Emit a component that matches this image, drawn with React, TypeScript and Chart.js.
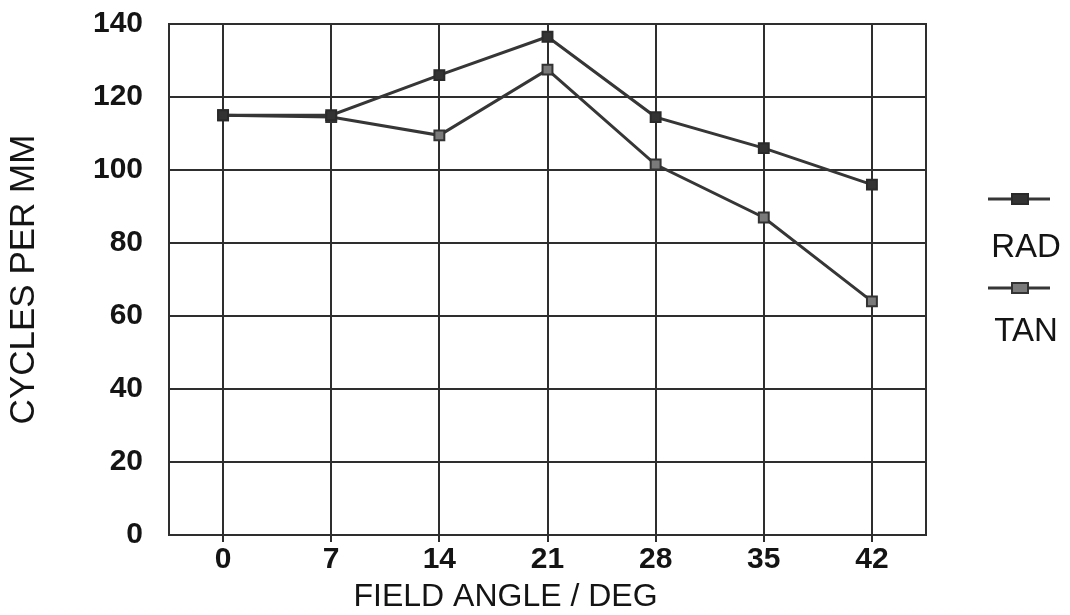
import { useEffect, useRef } from 'react';
import { Chart, registerables } from 'chart.js';

Chart.register(...registerables);

const categories = ['0', '7', '14', '21', '28', '35', '42'];
const radValues = [115, 115, 126, 136.5, 114.5, 106, 96];
const tanValues = [115, 114.5, 109.5, 127.5, 101.5, 87, 64];
const seriesNames = ['RAD', 'TAN'];
const yMin = 0;
const yMax = 140;
const yStep = 20;
const xTitle = 'FIELD ANGLE / DEG';
const yTitle = 'CYCLES PER MM';

const FONT = '"Liberation Sans", Arial, Helvetica, sans-serif';
const INK = '#141414';
const LINE = '#363636';
const GRID = '#2e2e2e';

export default function App() {
  const ref = useRef<HTMLCanvasElement>(null);

  useEffect(() => {
    if (!ref.current) return;

    const framePlugin = {
      id: 'frame',
      beforeDatasetsDraw(chart: any) {
        const { ctx, chartArea: a } = chart;
        ctx.save();
        ctx.strokeStyle = GRID;
        ctx.lineWidth = 2;
        ctx.strokeRect(a.left, a.top, a.right - a.left, a.bottom - a.top);
        ctx.restore();
      },
    };

    const textPlugin = {
      id: 'extraText',
      afterDraw(chart: any) {
        const { ctx, chartArea: a } = chart;
        ctx.save();
        // x axis title
        ctx.fillStyle = INK;
        ctx.font = `32px ${FONT}`;
        ctx.textAlign = 'center';
        ctx.textBaseline = 'middle';
        ctx.fillText(xTitle, (a.left + a.right) / 2 - 42, 597);

        // side legend: sample line with marker above its label
        chart.data.datasets.forEach((ds: any, i: number) => {
          const cy = [199, 288][i];
          const ty = [248, 332][i];
          const x0 = a.right + 62;
          const x1 = a.right + 124;
          ctx.strokeStyle = ds.borderColor;
          ctx.lineWidth = 3;
          ctx.beginPath();
          ctx.moveTo(x0, cy);
          ctx.lineTo(x1, cy);
          ctx.stroke();
          ctx.fillStyle = ds.pointBackgroundColor;
          ctx.strokeStyle = ds.pointBorderColor;
          ctx.lineWidth = 2;
          ctx.fillRect(a.right + 86, cy - 5, 16, 10);
          ctx.strokeRect(a.right + 86, cy - 5, 16, 10);
          ctx.fillStyle = INK;
          ctx.font = `33px ${FONT}`;
          ctx.textAlign = 'center';
          ctx.fillText(ds.label, a.right + 100, ty);
        });
        ctx.restore();
      },
    };

    const chart = new Chart(ref.current, {
      type: 'line',
      data: {
        labels: categories,
        datasets: [
          {
            label: seriesNames[0],
            data: radValues,
            borderColor: LINE,
            borderWidth: 3,
            pointStyle: 'rect',
            pointRadius: 7,
            pointBorderWidth: 2,
            pointBackgroundColor: '#333333',
            pointBorderColor: '#2a2a2a',
            tension: 0,
          },
          {
            label: seriesNames[1],
            data: tanValues,
            borderColor: LINE,
            borderWidth: 3,
            pointStyle: 'rect',
            pointRadius: 7,
            pointBorderWidth: 2,
            pointBackgroundColor: '#7a7a7a',
            pointBorderColor: '#333333',
            tension: 0,
          },
        ],
      },
      options: {
        responsive: false,
        animation: false,
        layout: { padding: { top: 24, right: 144, left: 0, bottom: 0 } },
        plugins: {
          legend: { display: false },
          tooltip: { enabled: false },
        },
        scales: {
          x: {
            type: 'category',
            offset: true,
            grid: {
              offset: false,
              color: GRID,
              lineWidth: 2,
              drawTicks: true,
              tickLength: 7,
              tickColor: GRID,
            },
            border: { display: true, color: GRID, width: 2 },
            ticks: {
              color: INK,
              font: { family: FONT, size: 30, weight: 'bold' },
              padding: 0,
              maxRotation: 0,
              autoSkip: false,
            },
            afterFit(scale: any) {
              scale.height = 80;
              scale.paddingLeft = 0;
              scale.paddingRight = 0;
            },
          },
          y: {
            min: yMin,
            max: yMax,
            grid: {
              color: GRID,
              lineWidth: 2,
              drawTicks: false,
            },
            border: { display: true, color: GRID, width: 2 },
            ticks: {
              stepSize: yStep,
              color: INK,
              font: { family: FONT, size: 30, weight: 'bold' },
              padding: 26,
            },
            title: {
              display: true,
              text: yTitle,
              color: INK,
              font: { family: FONT, size: 35 },
              padding: { top: 3, bottom: 0 },
            },
            afterFit(scale: any) {
              scale.width = 169;
              scale.paddingTop = 0;
              scale.paddingBottom = 0;
            },
          },
        },
      },
      plugins: [framePlugin, textPlugin],
    });

    return () => chart.destroy();
  }, []);

  return (
    <div style={{ position: 'absolute', left: 0, top: 0, width: 1070, height: 615, background: '#ffffff' }}>
      <canvas ref={ref} width={1070} height={615} style={{ display: 'block' }} />
    </div>
  );
}
